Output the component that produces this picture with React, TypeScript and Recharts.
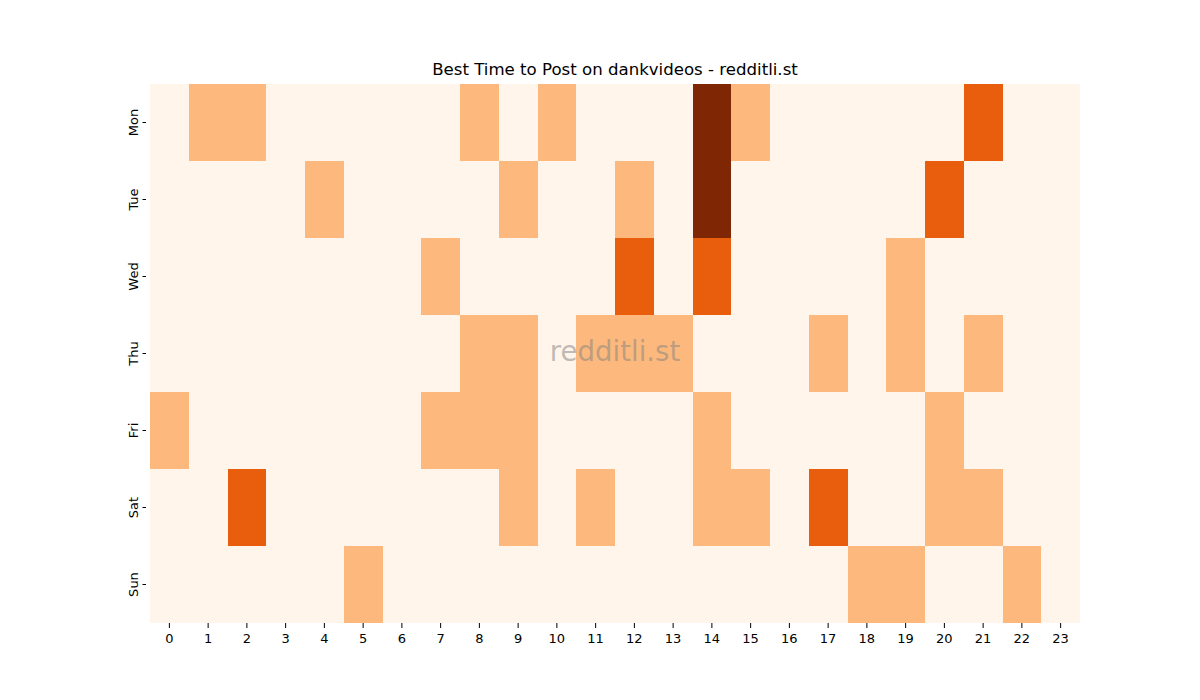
import React from 'react';
import { BarChart, Bar, XAxis, YAxis, Cell } from 'recharts';

const HOURS = Array.from({ length: 24 }, (_, i) => i);
const DAYS = ['Mon', 'Tue', 'Wed', 'Thu', 'Fri', 'Sat', 'Sun'];

// post counts per hour (0..23)
const MON = [0, 1, 1, 0, 0, 0, 0, 0, 1, 0, 1, 0, 0, 0, 3, 1, 0, 0, 0, 0, 0, 2, 0, 0];
const TUE = [0, 0, 0, 0, 1, 0, 0, 0, 0, 1, 0, 0, 1, 0, 3, 0, 0, 0, 0, 0, 2, 0, 0, 0];
const WED = [0, 0, 0, 0, 0, 0, 0, 1, 0, 0, 0, 0, 2, 0, 2, 0, 0, 0, 0, 1, 0, 0, 0, 0];
const THU = [0, 0, 0, 0, 0, 0, 0, 0, 1, 1, 0, 1, 1, 1, 0, 0, 0, 1, 0, 1, 0, 1, 0, 0];
const FRI = [1, 0, 0, 0, 0, 0, 0, 1, 1, 1, 0, 0, 0, 0, 1, 0, 0, 0, 0, 0, 1, 0, 0, 0];
const SAT = [0, 0, 2, 0, 0, 0, 0, 0, 0, 1, 0, 1, 0, 0, 1, 1, 0, 2, 0, 0, 1, 1, 0, 0];
const SUN = [0, 0, 0, 0, 0, 1, 0, 0, 0, 0, 0, 0, 0, 0, 0, 0, 0, 0, 1, 1, 0, 0, 1, 0];

const COUNTS = [MON, TUE, WED, THU, FRI, SAT, SUN];
const COLORS = ['#fff5eb', '#fdb97d', '#e95e0d', '#7f2704'];

// every hour is one unit wide; the colour carries the count
const rows = DAYS.map((day) => {
    const row: Record<string, string | number> = { day };
    HOURS.forEach((h) => {
        row[`h${h}`] = 1;
    });
    return row;
});

const XTICKS = HOURS.map((h) => h + 0.5);

const font = 'DejaVu Sans, sans-serif';

const DayTick = (props: any) => {
    const { x, y, payload } = props;
    return (
        <g>
            <line x1={x + 4} y1={y} x2={x + 0.5} y2={y} stroke="#000" strokeWidth={1} />
            <text
                x={x - 4}
                y={y}
                transform={`rotate(-90 ${x - 4} ${y})`}
                textAnchor="middle"
                fontSize={13}
                fontFamily={font}
                fill="#000"
            >
                {payload.value}
            </text>
        </g>
    );
};

export default function App() {
    return (
        <div style={{ position: 'absolute', left: 0, top: 0, width: 1200, height: 700, background: '#fff' }}>
            <div
                style={{
                    position: 'absolute',
                    left: 150,
                    width: 930,
                    top: 60,
                    textAlign: 'center',
                    fontFamily: font,
                    fontSize: 16.6,
                    color: '#000',
                }}
            >
                Best Time to Post on dankvideos - redditli.st
            </div>
            <BarChart
                width={1200}
                height={700}
                data={rows}
                layout="vertical"
                barCategoryGap={0}
                margin={{ top: 84, right: 120, left: 100, bottom: 47 }}
            >
                <XAxis
                    type="number"
                    domain={[0, 24]}
                    ticks={XTICKS}
                    tickFormatter={(v: number) => String(Math.round(v - 0.5))}
                    interval={0}
                    axisLine={false}
                    tickLine={{ stroke: '#000' }}
                    tickSize={5}
                    tickMargin={6}
                    height={30}
                    tick={{ fontSize: 13, fontFamily: font, fill: '#000' }}
                />
                <YAxis
                    type="category"
                    dataKey="day"
                    width={50}
                    axisLine={false}
                    tickLine={false}
                    tick={<DayTick />}
                    interval={0}
                />
                {HOURS.map((h) => (
                    <Bar key={h} dataKey={`h${h}`} stackId="a" isAnimationActive={false}>
                        {DAYS.map((d, i) => (
                            <Cell
                                key={d}
                                fill={COLORS[COUNTS[i][h]]}
                                stroke="none"
                                shapeRendering="crispEdges"
                            />
                        ))}
                    </Bar>
                ))}
            </BarChart>
            <div
                style={{
                    position: 'absolute',
                    left: 150,
                    width: 930,
                    top: 335,
                    textAlign: 'center',
                    fontFamily: font,
                    fontSize: 27.6,
                    color: 'rgba(128,128,128,0.5)',
                    pointerEvents: 'none',
                }}
            >
                redditli.st
            </div>
        </div>
    );
}
